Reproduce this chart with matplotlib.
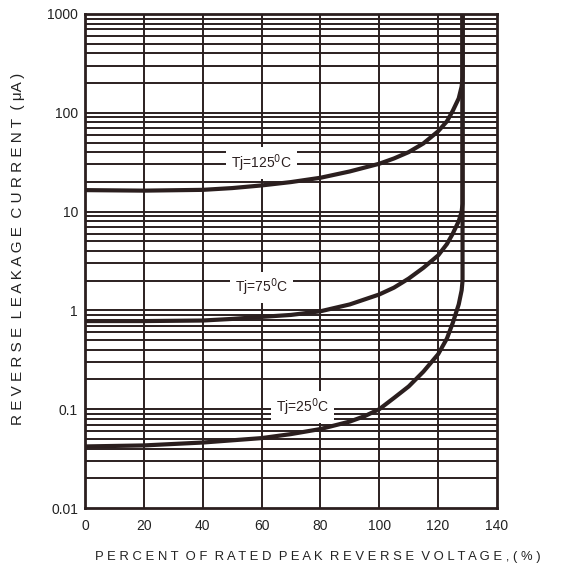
import matplotlib
matplotlib.use("Agg")
from matplotlib import pyplot as plt

plt.rcParams['font.family'] = ['Liberation Sans', 'DejaVu Sans']

# percent of rated peak reverse voltage vs leakage current (uA)
pct_125 = [0, 20, 40, 50, 60, 70, 80, 90, 100, 105, 110, 115, 120, 123, 125, 127, 128, 128.3, 128.3]
ir_125 = [16.5, 16.3, 16.6, 17.3, 18.4, 19.9, 22, 25.5, 30.5, 34.5, 40, 49, 65, 82, 105, 140, 185, 230, 1000]

pct_75 = [0, 20, 40, 50, 60, 70, 80, 90, 100, 105, 110, 115, 120, 123, 125, 127, 128, 128.3, 128.3]
ir_75 = [0.78, 0.78, 0.79, 0.82, 0.86, 0.9, 0.98, 1.15, 1.45, 1.7, 2.1, 2.7, 3.6, 4.7, 6.0, 8.0, 10, 12, 1000]

pct_25 = [0, 20, 40, 60, 70, 80, 90, 95, 100, 105, 110, 115, 120, 123, 125, 127, 128, 128.3, 128.3]
ir_25 = [0.042, 0.043, 0.046, 0.051, 0.056, 0.063, 0.075, 0.085, 0.1, 0.13, 0.17, 0.24, 0.36, 0.52, 0.75, 1.15, 1.6, 2.0, 1000]

x_ticks = [0, 20, 40, 60, 80, 100, 120, 140]
y_ticks = [0.01, 0.1, 1, 10, 100, 1000]
y_tick_labels = ["0.01", "0.1", "1", "10", "100", "1000"]

ink = "#2b1f1f"

fig = plt.figure(figsize=(5.65, 5.71), dpi=100)
ax = fig.add_axes([0.1504, 0.1103, 0.7292, 0.8652])

ax.set_yscale("log")
ax.set_xlim(0, 140)
ax.set_ylim(0.01, 1000)

# grid: every 20 % across, every 1..9 step per decade up
for xv in x_ticks[1:-1]:
    ax.axvline(xv, color=ink, lw=1.4, zorder=1)
for dec in [0.01, 0.1, 1, 10, 100]:
    for m in range(1, 10):
        yv = dec * m
        if 0.01 < yv < 1000:
            ax.axhline(yv, color=ink, lw=1.4, zorder=1)

for xs, ys in [(pct_125, ir_125), (pct_75, ir_75), (pct_25, ir_25)]:
    ax.plot(xs, ys, color=ink, lw=3.0, solid_capstyle="butt", solid_joinstyle="round", zorder=3)

box = dict(boxstyle="square,pad=0.35", fc="white", ec="none")
ax.text(60, 31, "Tj=125$^0$C", fontsize=10, ha="center", va="center", color=ink, bbox=box, zorder=4)
ax.text(60, 1.7, "Tj=75$^0$C", fontsize=10, ha="center", va="center", color=ink, bbox=box, zorder=4)
ax.text(74, 0.105, "Tj=25$^0$C", fontsize=10, ha="center", va="center", color=ink, bbox=box, zorder=4)

ax.set_xticks(x_ticks)
ax.set_xticklabels([str(v) for v in x_ticks])
ax.set_yticks(y_ticks)
ax.set_yticklabels(y_tick_labels)
ax.yaxis.set_minor_locator(matplotlib.ticker.NullLocator())
ax.tick_params(length=0, labelsize=10, colors="#222222")
ax.tick_params(axis="x", pad=8)
ax.tick_params(axis="y", pad=5)

for sp in ax.spines.values():
    sp.set_color(ink)
    sp.set_linewidth(2.0)

fig.text(0.032, 0.565, "R E V E R S E  L E A K A G E  C U R R E N T  ( μA )",
         fontsize=11, color="#222222", rotation=90, ha="center", va="center")
fig.text(0.168, 0.025, "P E R C E N T  O F  R A T E D  P E A K  R E V E R S E  V O L T A G E , ( % )",
         fontsize=9.4, color="#222222", ha="left", va="center")

fig.savefig("out.png", dpi=100)
